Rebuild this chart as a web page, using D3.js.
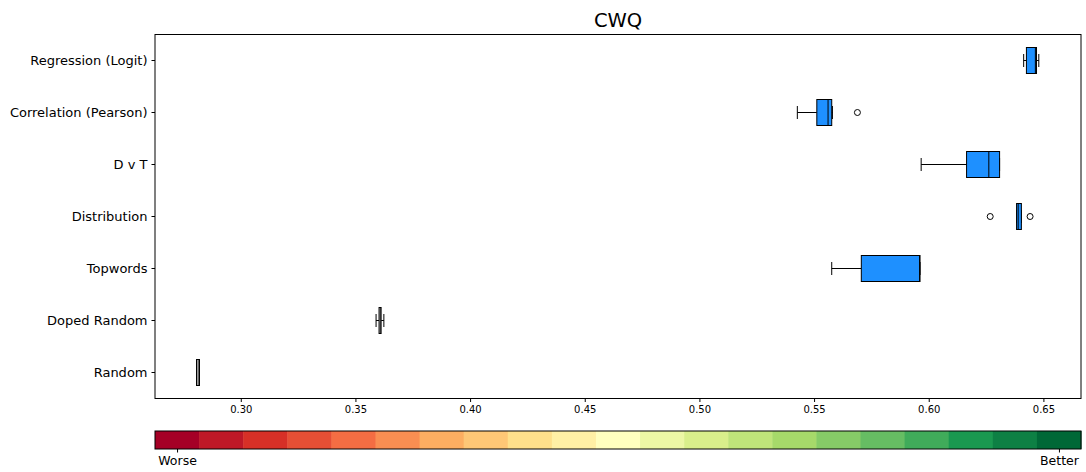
<!DOCTYPE html>
<html>
<head>
<meta charset="utf-8">
<script src="https://cdn.jsdelivr.net/npm/d3@7"></script>
<style>
  body { margin: 0; background: #fff; }
  svg { display: block; }
  svg text { font-family: "DejaVu Sans", sans-serif; }
</style>
</head>
<body>
<svg id="chart" width="1086" height="472"></svg>
<script>
// Methods, listed top to bottom
const categories = ["Regression (Logit)", "Correlation (Pearson)", "D v T", "Distribution", "Topwords", "Doped Random", "Random"];
// Box-plot summary per method
const whiskerLow  = [0.6414, 0.5427, 0.5967, 0.6383, 0.5577, 0.3590, 0.2807];
const q1          = [0.6426, 0.5512, 0.6165, 0.6383, 0.5706, 0.3603, 0.2807];
const median      = [0.6465, 0.5561, 0.6262, 0.6390, 0.5960, 0.3608, 0.2814];
const q3          = [0.6470, 0.5577, 0.6309, 0.6404, 0.5962, 0.3612, 0.2820];
const whiskerHigh = [0.6480, 0.5580, 0.6309, 0.6404, 0.5962, 0.3624, 0.2820];
const outliers    = [[], [0.5689], [], [0.6268, 0.6442], [], [], []];
const boxFill     = ["#1e90ff", "#1e90ff", "#1e90ff", "#1e90ff", "#1e90ff", "#ffffff", "#ffffff"];
const xTicks = [0.30, 0.35, 0.40, 0.45, 0.50, 0.55, 0.60, 0.65];
const colorbarLabels = ["Worse", "Better"];
const colorbarSteps = 21;

const svg = d3.select("#chart");
const plotL = 155, plotR = 1081, plotT = 34.5, plotB = 398.5;
const FONT = "DejaVu Sans, sans-serif";

const x = d3.scaleLinear().domain([0.2626, 0.6664]).range([plotL, plotR]);
const y = d3.scaleBand().domain(categories).range([plotT, plotB]).paddingInner(0.5).paddingOuter(0.25);
const bh = y.bandwidth();
const yc = d => y(d) + bh / 2;

// Title
svg.append("text").attr("x", (plotL + plotR) / 2).attr("y", 27)
  .attr("text-anchor", "middle").attr("font-size", 19.5).attr("font-family", FONT).text("CWQ");

// Axes
const xAxis = d3.axisBottom(x).tickValues(xTicks).tickFormat(d3.format(".2f")).tickSize(3.5).tickPadding(3.5);
const gx = svg.append("g").attr("transform", `translate(0,${plotB})`).call(xAxis).attr("font-family", FONT);
gx.select(".domain").remove();
gx.selectAll("text").attr("font-size", 10).attr("fill", "#000");
gx.selectAll("line").attr("stroke", "#000");

const yAxis = d3.axisLeft(y).tickSize(3.5).tickPadding(4);
const gy = svg.append("g").attr("transform", `translate(${plotL},0)`).call(yAxis).attr("font-family", FONT);
gy.select(".domain").remove();
gy.selectAll("text").attr("font-size", 13).attr("fill", "#000");
gy.selectAll("line").attr("stroke", "#000");

// Boxes
const g = svg.append("g");
categories.forEach((c, i) => {
  const cy = yc(c);
  const cap = bh * 0.5 / 2;
  // whiskers
  g.append("line").attr("x1", x(whiskerLow[i])).attr("x2", x(q1[i])).attr("y1", cy).attr("y2", cy)
    .attr("stroke", "#000").attr("stroke-width", 1);
  g.append("line").attr("x1", x(q3[i])).attr("x2", x(whiskerHigh[i])).attr("y1", cy).attr("y2", cy)
    .attr("stroke", "#000").attr("stroke-width", 1);
  g.append("line").attr("x1", x(whiskerLow[i])).attr("x2", x(whiskerLow[i])).attr("y1", cy - cap).attr("y2", cy + cap)
    .attr("stroke", "#000").attr("stroke-width", 1);
  g.append("line").attr("x1", x(whiskerHigh[i])).attr("x2", x(whiskerHigh[i])).attr("y1", cy - cap).attr("y2", cy + cap)
    .attr("stroke", "#000").attr("stroke-width", 1);
  // box
  g.append("rect").attr("x", x(q1[i])).attr("y", y(c))
    .attr("width", Math.max(x(q3[i]) - x(q1[i]), 1)).attr("height", bh)
    .attr("fill", boxFill[i]).attr("stroke", "#000").attr("stroke-width", 1);
  // median
  g.append("line").attr("x1", x(median[i])).attr("x2", x(median[i])).attr("y1", y(c)).attr("y2", y(c) + bh)
    .attr("stroke", "#000").attr("stroke-width", 1);
  // outliers
  outliers[i].forEach(v => {
    g.append("circle").attr("cx", x(v)).attr("cy", cy).attr("r", 3)
      .attr("fill", "none").attr("stroke", "#000").attr("stroke-width", 1);
  });
});

// Axes frame
svg.append("rect").attr("x", plotL).attr("y", plotT).attr("width", plotR - plotL).attr("height", plotB - plotT)
  .attr("fill", "none").attr("stroke", "#000").attr("stroke-width", 1);

// Colorbar (discrete RdYlGn)
const brewer = ["#a50026", "#d73027", "#f46d43", "#fdae61", "#fee08b", "#ffffbf", "#d9ef8b", "#a6d96a", "#66bd63", "#1a9850", "#006837"];
const cmap = d3.scaleLinear().domain(d3.range(11).map(k => k / 10)).range(brewer).interpolate(d3.interpolateRgb);
const cbTop = 431, cbH = 18;
const cx = d3.scaleBand().domain(d3.range(colorbarSteps)).range([plotL, plotR]);
svg.append("g").selectAll("rect").data(d3.range(colorbarSteps)).join("rect")
  .attr("x", d => cx(d)).attr("y", cbTop).attr("width", cx.bandwidth() + 0.5).attr("height", cbH)
  .attr("fill", d => cmap(d / (colorbarSteps - 1)));
svg.append("rect").attr("x", plotL).attr("y", cbTop).attr("width", plotR - plotL).attr("height", cbH)
  .attr("fill", "none").attr("stroke", "#000").attr("stroke-width", 1);

const cbTickPos = [0, colorbarSteps - 1].map(d => cx(d) + cx.bandwidth() / 2);
const cbAxis = d3.axisBottom(d3.scaleOrdinal().domain(colorbarLabels).range(cbTickPos)).tickSize(3.5).tickPadding(3.5);
const gcb = svg.append("g").attr("transform", `translate(0,${cbTop + cbH})`).call(cbAxis).attr("font-family", FONT);
gcb.select(".domain").remove();
gcb.selectAll("text").attr("font-size", 12.5).attr("fill", "#000");
gcb.selectAll("line").attr("stroke", "#000");
</script>
</body>
</html>
